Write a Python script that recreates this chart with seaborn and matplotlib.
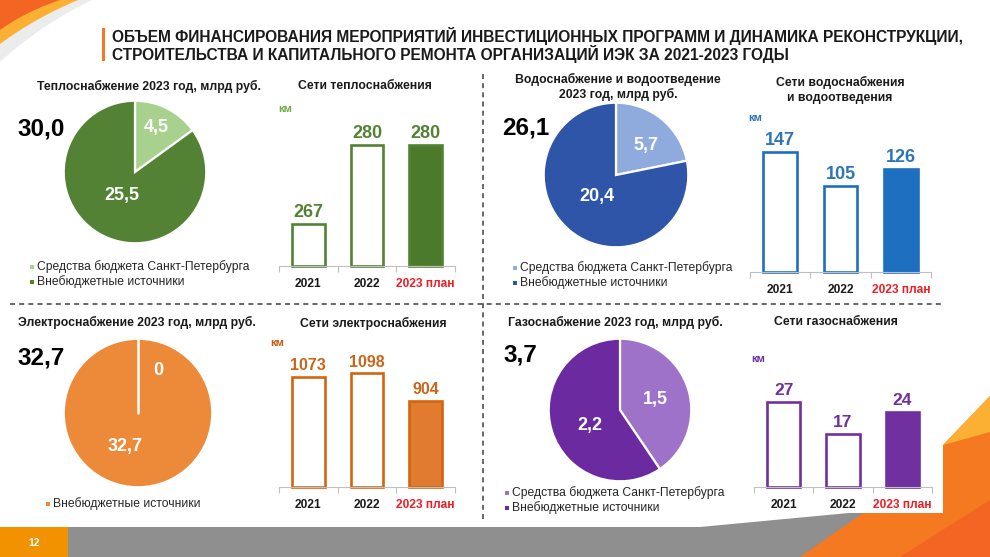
import matplotlib
matplotlib.use('Agg')
import numpy as np
import pandas as pd
import matplotlib.pyplot as plt
import seaborn as sns
from matplotlib.patches import Polygon, Rectangle

W, H = 990, 557

title_lines = ['ОБЪЕМ ФИНАНСИРОВАНИЯ МЕРОПРИЯТИЙ ИНВЕСТИЦИОННЫХ ПРОГРАММ И ДИНАМИКА РЕКОНСТРУКЦИИ,',
               'СТРОИТЕЛЬСТВА И КАПИТАЛЬНОГО РЕМОНТА ОРГАНИЗАЦИЙ ИЭК ЗА 2021-2023 ГОДЫ']
years = ['2021', '2022', '2023 план']
sources = ['Средства бюджета Санкт-Петербурга', 'Внебюджетные источники']

# теплоснабжение
heat_title = 'Теплоснабжение 2023 год, млрд руб.'
heat_net_title = 'Сети теплоснабжения'
heat_total = 30.0
heat_money = [4.5, 25.5]
heat_km = [267, 280, 280]

# водоснабжение
water_title = 'Водоснабжение и водоотведение\n2023 год, млрд руб.'
water_net_title = 'Сети водоснабжения\nи водоотведения'
water_total = 26.1
water_money = [5.7, 20.4]
water_km = [147, 105, 126]

# электроснабжение
power_title = 'Электроснабжение 2023 год, млрд руб.'
power_net_title = 'Сети электроснабжения'
power_total = 32.7
power_money = [0, 32.7]
power_km = [1073, 1098, 904]

# газоснабжение
gas_title = 'Газоснабжение 2023 год, млрд руб.'
gas_net_title = 'Сети газоснабжения'
gas_total = 3.7
gas_money = [1.5, 2.2]
gas_km = [27, 17, 24]

RED = '#ee1c25'
TXT = '#1a1a1a'

sns.set_theme(style='white')
plt.rcParams['font.family'] = ['Liberation Sans', 'DejaVu Sans']

fig = plt.figure(figsize=(W / 100, H / 100), dpi=100)
fig.patch.set_facecolor('white')


def px(x0, y0, x1, y1):
    return [x0 / W, 1 - y1 / H, (x1 - x0) / W, (y1 - y0) / H]


def fmt(v):
    return '0' if v == 0 else f'{v:.1f}'.replace('.', ',')


# background layer in pixel coords
bg = fig.add_axes([0, 0, 1, 1])
bg.set_xlim(0, W)
bg.set_ylim(H, 0)
bg.axis('off')


def bez(p0, p1, p2, n=30):
    t = np.linspace(0, 1, n)[:, None]
    return (1 - t) ** 2 * np.array(p0) + 2 * (1 - t) * t * np.array(p1) + t ** 2 * np.array(p2)


# top-left swoosh
grey = bez((92, 0), (42, 24), (0, 62))
bg.add_patch(Polygon(np.vstack([[[0, 0]], grey]), color='#ececec', lw=0))
outer = bez((78, 0), (35, 18), (0, 44))
bg.add_patch(Polygon(np.vstack([[[0, 0]], outer]), color='#fbb034', lw=0))
inner = bez((60, 0), (25, 12), (0, 30))
bg.add_patch(Polygon(np.vstack([[[0, 0]], inner]), color='#f26522', lw=0))

# bottom band and right swoosh
bg.add_patch(Polygon([[0, 527], [700, 527], [870, 511], [870, 557], [0, 557]], color='#8f8f8f', lw=0))
bg.add_patch(Rectangle((0, 527), 68, 30, color='#f39200', lw=0))
bg.text(34, 543, '12', color='white', fontsize=7.5, fontweight='bold', ha='center', va='center')
bg.add_patch(Polygon([[990, 396], [943, 445], [863, 513], [800, 557], [990, 557]], color='#f47920', lw=0))
bg.add_patch(Polygon([[990, 396], [943, 445], [990, 432]], color='#fbb034', lw=0))
bg.add_patch(Polygon([[990, 500], [900, 557], [990, 557]], color='#f26522', lw=0))
# white content box sits over the swoosh
bg.add_patch(Rectangle((700, 380), 243, 133, color='white', lw=0))

# dashed separators
bg.plot([483, 483], [74, 520], color='#4d4d4d', lw=1.2, ls=(0, (3, 2.5)))
bg.plot([10, 945], [304, 304], color='#4d4d4d', lw=1.2, ls=(0, (3, 2.5)))

# main title
bg.add_patch(Rectangle((102, 28), 2.5, 33, color='#f47920', lw=0))
t1 = bg.text(112, 36, title_lines[0], fontsize=11, fontweight='bold', color=TXT, va='center', ha='left')
r = fig.canvas.get_renderer()
fs = 11 * 853 / t1.get_window_extent(r).width
t1.set_fontsize(fs)
bg.text(112, 54, title_lines[1], fontsize=fs, fontweight='bold', color=TXT, va='center', ha='left')


def draw_pie(cx, cy, rad, values, colors, label_pos):
    ax = fig.add_axes(px(cx - rad, cy - rad, cx + rad, cy + rad))
    wedges, _ = ax.pie(values, colors=colors, startangle=90, counterclock=False,
                       wedgeprops=dict(edgecolor='white', linewidth=1.6))
    # a zero share still shows as a white radius line
    for v, w in zip(values, wedges):
        if v == 0:
            a = np.deg2rad(w.theta1)
            ax.plot([0, np.cos(a)], [0, np.sin(a)], color='white', lw=1.8)
    for v, (lx, ly) in zip(values, label_pos):
        ax.text(lx, ly, fmt(v), color='white', fontsize=13, fontweight='bold', ha='center', va='center')
    ax.set_xlim(-1.01, 1.01)
    ax.set_ylim(-1.01, 1.01)
    ax.patch.set_visible(False)


def draw_bars(rect, values, ylim, edge, fill, vcolor, vsize):
    ax = fig.add_axes(rect)
    df = pd.DataFrame({'year': years, 'km': values})
    sns.barplot(data=df, x='year', y='km', ax=ax, width=0.56, color=fill, saturation=1, errorbar=None)
    for i, p in enumerate(ax.patches):
        p.set_facecolor('white' if i < 2 else fill)
        p.set_edgecolor(edge)
        p.set_linewidth(1.9)
        p.set_y(ylim[0])
        p.set_height(values[i] - ylim[0])
        p.set_clip_on(False)
        ax.annotate(str(values[i]), (i, values[i]), xytext=(0, 5), textcoords='offset points',
                    ha='center', va='baseline', color=vcolor, fontsize=vsize, fontweight='bold')
    ax.set_xlim(-0.5, 2.5)
    ax.set_ylim(*ylim)
    ax.set_yticks([])
    ax.set_xlabel('')
    ax.set_ylabel('')
    for s in ['left', 'top', 'right']:
        ax.spines[s].set_visible(False)
    ax.spines['bottom'].set_color('#bfbfbf')
    ax.spines['bottom'].set_linewidth(0.8)
    ax.set_xticks([-0.5, 0.5, 1.5, 2.5], minor=True)
    ax.tick_params(axis='x', which='major', length=0, pad=8.5, labelsize=8.6)
    ax.tick_params(axis='x', which='minor', length=4, width=0.8, color='#bfbfbf', bottom=True, direction='out')
    labels = ax.get_xticklabels()
    for j, lbl in enumerate(labels):
        lbl.set_fontweight('bold')
        lbl.set_color(RED if j == 2 else TXT)
    ax.patch.set_visible(False)


def legend(x, y, items):
    for k, (lab, col) in enumerate(items):
        yy = y + k * 15
        bg.add_patch(Rectangle((x - 2, yy - 2), 4, 4, color=col, lw=0))
        bg.text(x + 5, yy, lab, fontsize=8.7, color='#262626', va='center', ha='left')


sect_font = dict(fontsize=8.8, fontweight='bold', color=TXT, va='center')
total_font = dict(fontsize=17.5, fontweight='bold', color='black', va='center', ha='left')
km_font = dict(fontsize=8, fontweight='bold', ha='center', va='center')

# --- теплоснабжение
heat_cols = ['#a9d18e', '#548235']
bg.text(37, 86, heat_title, ha='left', **sect_font)
bg.text(365, 86, heat_net_title, ha='center', **sect_font)
bg.text(17, 129, fmt(heat_total), **total_font)
bg.text(285, 109, 'км', color='#70ad47', **km_font)
draw_pie(135, 172, 72, heat_money, heat_cols, [(0.30, 0.62), (-0.19, -0.33)])
legend(32, 267, list(zip(sources, heat_cols)))
draw_bars(px(279, 127, 455, 266), heat_km, (260, 283), '#548235', '#4b7a2b', '#548235', 13)

# --- водоснабжение
water_cols = ['#8faadc', '#2f55a8']
bg.text(618, 87, water_title, ha='center', linespacing=1.25, **sect_font)
bg.text(840, 90, water_net_title, ha='center', linespacing=1.25, **sect_font)
bg.text(502, 128, fmt(water_total), **total_font)
bg.text(755, 118, 'км', color='#2e75b6', **km_font)
draw_pie(616, 175, 73, water_money, water_cols, [(0.42, 0.41), (-0.26, -0.30)])
legend(515, 268, list(zip(sources, water_cols)))
draw_bars(px(750, 125, 931, 272), water_km, (0, 180), '#1f6fc1', '#1f6fc1', '#2e75b6', 13)

# --- электроснабжение
power_cols = ['#f8cbad', '#ed8a3a']
bg.text(18, 322, power_title, ha='left', **sect_font)
bg.text(373, 323, power_net_title, ha='center', **sect_font)
bg.text(17, 358, fmt(power_total), **total_font)
bg.text(277, 343, 'км', color='#c55a11', **km_font)
draw_pie(138, 413, 75, power_money, power_cols, [(0.27, 0.57), (-0.17, -0.45)])
legend(48, 504, [(s, c) for s, c, v in zip(sources, power_cols, power_money) if v > 0])
draw_bars(px(279, 359, 455, 487), power_km, (298, 1200), '#d4650f', '#e07b2f', '#c9661c', 11.5)

# --- газоснабжение
gas_cols = ['#9e72c8', '#6b2aa0']
bg.text(508, 322, gas_title, ha='left', **sect_font)
bg.text(836, 322, gas_net_title, ha='center', **sect_font)
bg.text(503, 355, fmt(gas_total), **total_font)
bg.text(758, 359, 'км', color='#7030a0', **km_font)
draw_pie(620, 410, 72, gas_money, gas_cols, [(0.50, 0.15), (-0.42, -0.22)])
legend(507, 493, list(zip(sources, gas_cols)))
draw_bars(px(754, 377, 932, 487), gas_km, (0, 35), '#7030a0', '#7030a0', '#7030a0', 12.5)

fig.savefig('out.png', dpi=100)
